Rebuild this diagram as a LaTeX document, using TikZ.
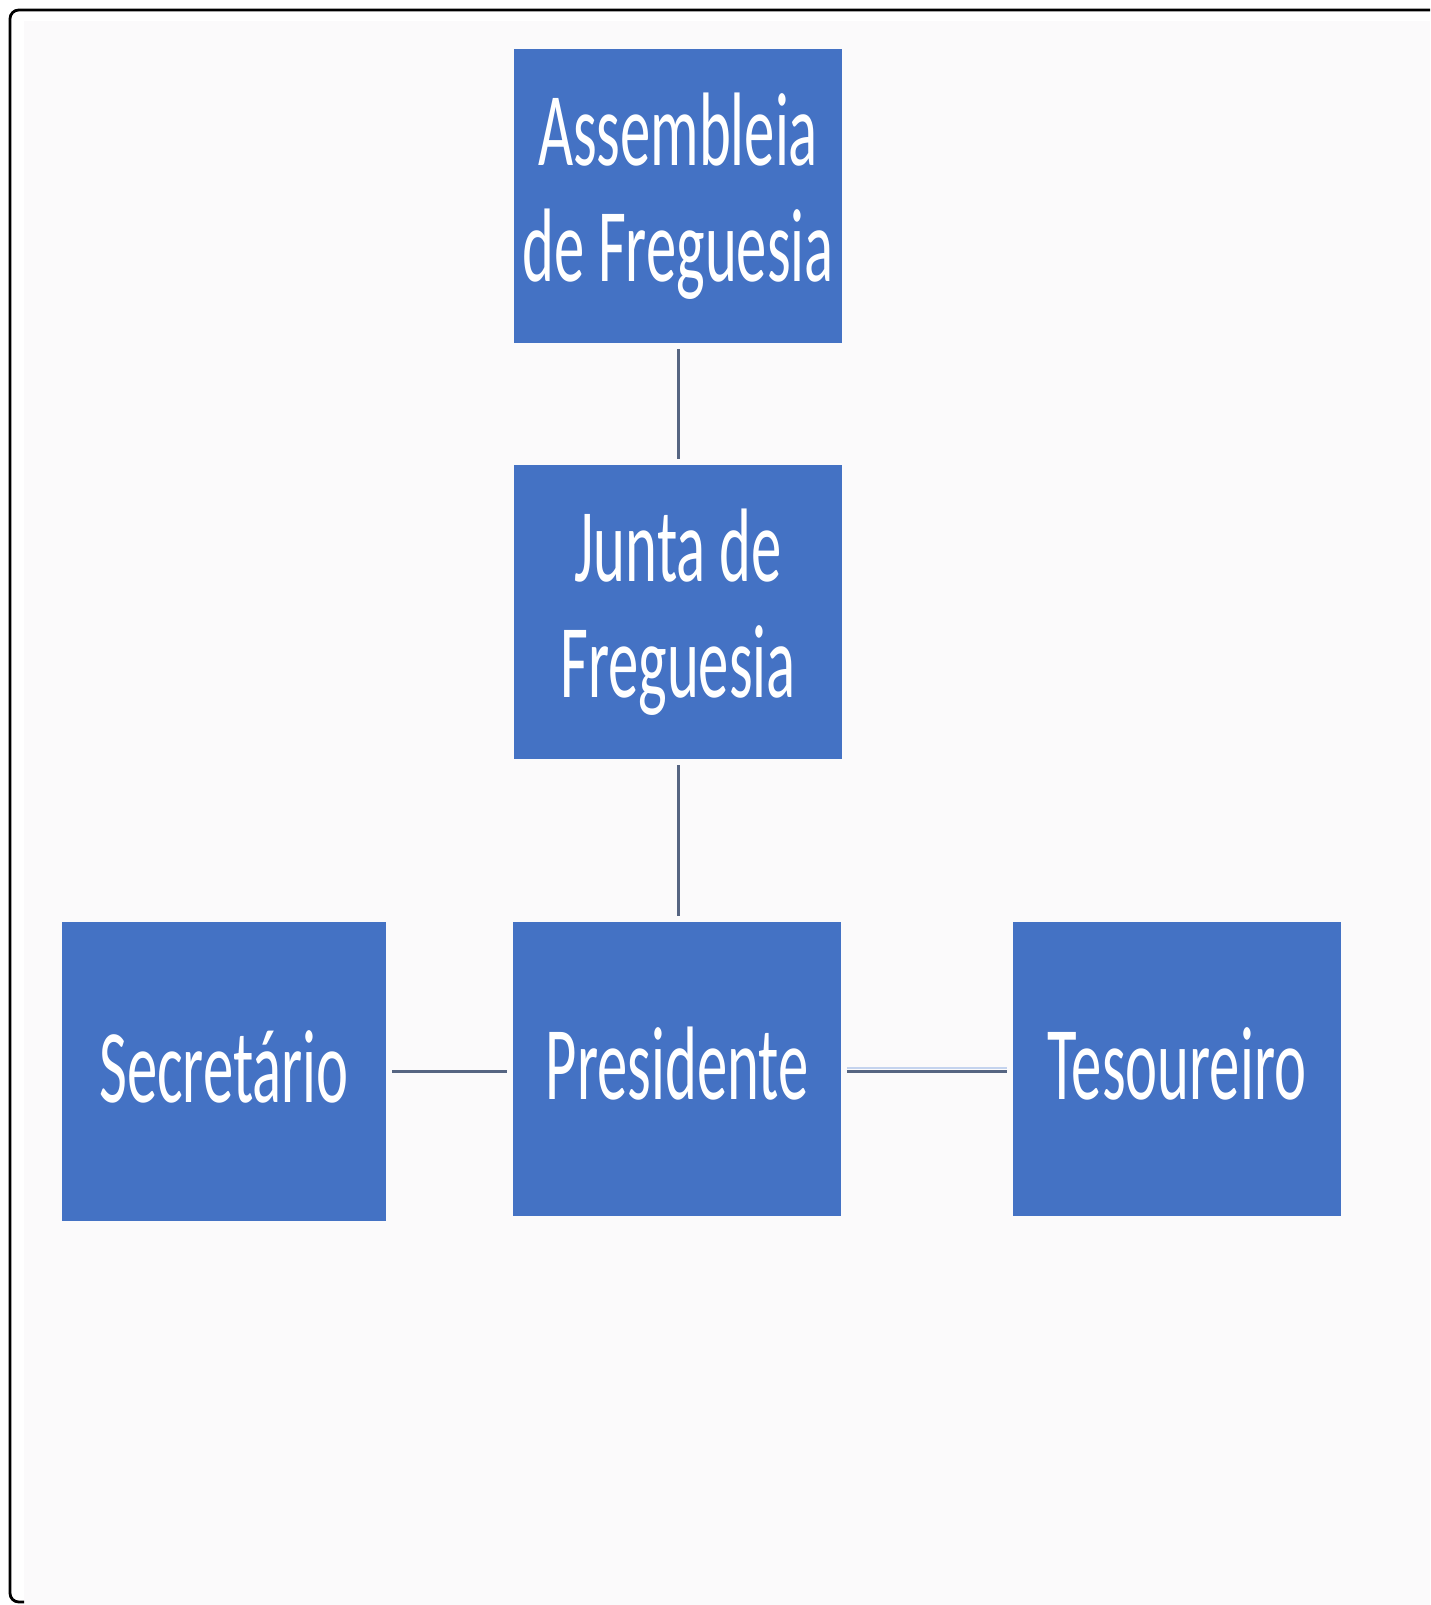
\documentclass[tikz,border=0pt]{standalone}
\usepackage{fontspec}
\newfontfamily\boxfont[FakeStretch=0.58]{Carlito}
\definecolor{boxblue}{RGB}{68,114,196}
\definecolor{linkgray}{RGB}{86,101,130}
\definecolor{linklight}{RGB}{196,211,238}
\definecolor{pagebg}{RGB}{251,250,251}
\tikzset{
  orgbox/.style={fill=boxblue,draw=none,text=white,inner sep=0pt,align=center,
    minimum width=6.56cm,minimum height=5.9cm,
    font=\boxfont\fontsize{59.5}{66.3}\selectfont},
  link/.style={draw=linkgray,line width=1.7pt,shorten <=0.11cm,shorten >=0.11cm}
}
\begin{document}
\begin{tikzpicture}[x=0.02cm,y=-0.02cm]
\useasboundingbox (0,0) rectangle (1430,1605);
% background and frame
\fill[pagebg](24,21) rectangle (1430,1605);
\draw[line width=1.6pt,rounded corners=5](1430,10)--(10,10)--(10,1602)--(24,1602);
% boxes
\node[orgbox] (assembleia) at (678,196) {Assembleia\\de Freguesia};
\node[orgbox] (junta) at (678,612) {Junta de\\Freguesia};
\node[orgbox] (presidente) at (677,1069) {\raisebox{0.25cm}{Presidente}};
\node[orgbox,minimum width=6.5cm,minimum height=6cm] (secretario) at (224,1071.5) {\raisebox{0.2cm}{Secret\'ario}};
\node[orgbox] (tesoureiro) at (1177,1069) {\raisebox{0.2cm}{Tesoureiro}};
% connectors
\draw[link](assembleia.south)--(junta.north);
\draw[link](junta.south)--(junta.south |- presidente.north);
\draw[link](secretario.east |- 0,1071)--(presidente.west |- 0,1071);
\draw[link,draw=linklight,line width=1.2pt,transform canvas={yshift=0.06cm}](presidente.east |- 0,1071)--(tesoureiro.west |- 0,1071);
\draw[link](presidente.east |- 0,1071)--(tesoureiro.west |- 0,1071);
\end{tikzpicture}
\end{document}
